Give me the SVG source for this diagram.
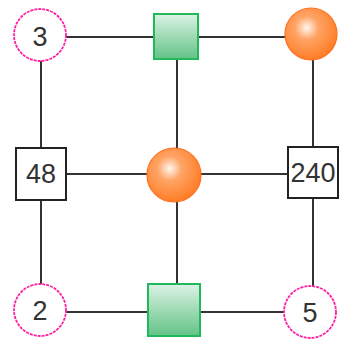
<svg xmlns="http://www.w3.org/2000/svg" width="339" height="339" viewBox="0 0 339 339">
<style>
.edge{stroke:#333;stroke-width:2;fill:none}
.num{fill:#fff;stroke:#ff1fa5;stroke-width:1.8;stroke-dasharray:3 1}
.box{fill:#fff;stroke:#222;stroke-width:2}
.sq{fill:url(#gg);stroke:#20b85a;stroke-width:2}
.ball{fill:url(#og);stroke:#ff7020;stroke-width:1.2}
.t{font-family:"Liberation Sans",Arial,sans-serif;font-size:27px;fill:#333;text-anchor:middle;dominant-baseline:central}
</style>
<defs>
<linearGradient id="gg" x1="0" y1="0" x2="0" y2="1">
<stop offset="0" stop-color="#dcf2e4"/>
<stop offset="1" stop-color="#62c386"/>
</linearGradient>
<radialGradient id="og" cx="0.42" cy="0.38" r="0.65">
<stop offset="0" stop-color="#fff6ee"/>
<stop offset="0.35" stop-color="#ffa465"/>
<stop offset="1" stop-color="#ff7a22"/>
</radialGradient>
</defs>
<g id="connectors">
<line class="edge" x1="40" y1="37" x2="311" y2="37"/>
<line class="edge" x1="41" y1="174" x2="313" y2="174"/>
<line class="edge" x1="40" y1="312" x2="310" y2="312"/>
<line class="edge" x1="41" y1="35" x2="41" y2="310"/>
<line class="edge" x1="177" y1="36" x2="177" y2="310"/>
<line class="edge" x1="313" y1="34" x2="313" y2="312"/>
</g>
<g id="n3"><circle class="num" cx="40" cy="35" r="26"/><text class="t" x="40" y="37">3</text></g>
<g id="sqTop"><rect class="sq" x="154" y="14" width="44" height="45"/></g>
<g id="ballTop"><circle class="ball" cx="311" cy="34" r="26"/></g>
<g id="n48"><rect class="box" x="16" y="148" width="50" height="52"/><text class="t" x="41" y="174">48</text></g>
<g id="ballMid"><circle class="ball" cx="174" cy="175" r="27"/></g>
<g id="n240"><rect class="box" x="288" y="147" width="50" height="51"/><text class="t" x="313" y="173">240</text></g>
<g id="n2"><circle class="num" cx="40" cy="310" r="26"/><text class="t" x="40" y="311">2</text></g>
<g id="sqBot"><rect class="sq" x="148" y="284" width="52" height="52"/></g>
<g id="n5"><circle class="num" cx="310" cy="312" r="26"/><text class="t" x="310" y="313">5</text></g>
</svg>
